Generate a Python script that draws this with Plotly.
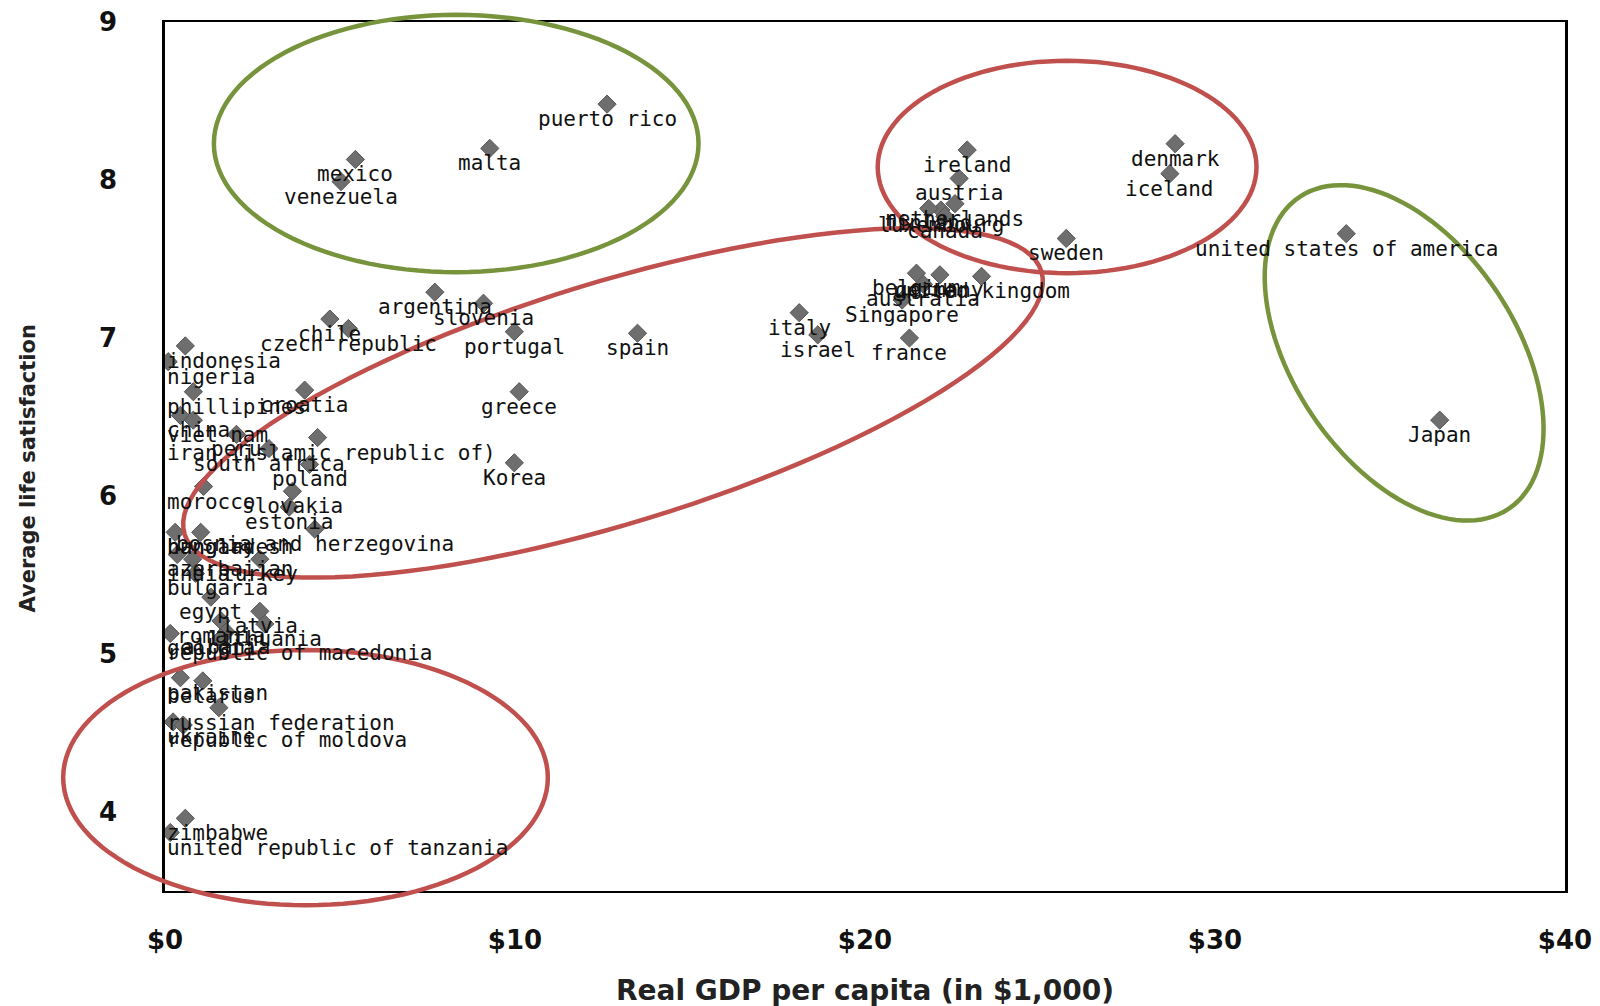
import math
import plotly.graph_objects as go

# ---------------- data ----------------
countries = [
    "puerto rico", "malta", "mexico", "venezuela", "ireland", "denmark", "austria", "iceland",
    "netherlands", "luxembourg", "finland", "canada", "sweden", "united states of america", "Japan",
    "belgium", "germany", "united kingdom", "australia", "Singapore", "france", "italy", "israel",
    "spain", "portugal", "greece", "Korea", "argentina", "slovenia", "chile", "czech republic",
    "indonesia", "nigeria", "croatia", "phillipines", "china", "viet nam", "peru",
    "iran (islamic republic of)", "south africa", "poland", "morocco", "slovakia", "estonia",
    "bosnia and herzegovina", "bangladesh", "hungary", "turkey", "azerbaijan", "india", "bulgaria",
    "egypt", "latvia", "lithuania", "romania", "albania", "republic of macedonia", "georgia",
    "pakistan", "belarus", "russian federation", "ukraine", "republic of moldova",
    "zimbabwe", "united republic of tanzania",
]
gdp = [
    12.63, 9.28, 5.44, 5.03, 22.92, 28.86, 22.69, 28.71,
    22.57, 22.17, 21.82, 22.28, 25.75, 33.75, 36.42,
    21.47, 22.14, 23.33, 21.67, 21.06, 21.27, 18.12, 18.65,
    13.50, 9.98, 10.12, 9.98, 7.71, 9.10, 4.71, 5.24,
    0.58, 0.09, 3.99, 0.81, 0.44, 0.81, 2.04,
    4.36, 2.97, 4.13, 1.10, 3.64, 3.55,
    4.28, 0.29, 1.02, 2.71, 0.35, 0.79, 0.87,
    1.31, 2.71, 2.85, 1.60, 1.75, 1.60, 0.15,
    0.44, 1.08, 1.54, 0.23, 0.52,
    0.58, 0.15,
]
satisfaction = [
    8.48, 8.20, 8.13, 7.99, 8.19, 8.23, 8.01, 8.04,
    7.85, 7.81, 7.82, 7.77, 7.63, 7.66, 6.48,
    7.41, 7.40, 7.39, 7.34, 7.24, 7.00, 7.16, 7.02,
    7.03, 7.04, 6.66, 6.21, 7.29, 7.22, 7.12, 7.06,
    6.95, 6.85, 6.67, 6.66, 6.51, 6.48, 6.39,
    6.37, 6.30, 6.20, 6.06, 6.03, 5.93,
    5.79, 5.77, 5.77, 5.60, 5.63, 5.60, 5.51,
    5.36, 5.27, 5.19, 5.21, 5.14, 5.10, 5.13,
    4.85, 4.83, 4.66, 4.57, 4.55,
    3.96, 3.87,
]
x_ticks = [0, 10, 20, 30, 40]
x_tick_labels = ["$0", "$10", "$20", "$30", "$40"]
y_ticks = [4, 5, 6, 7, 8, 9]

# ---------------- layout geometry ----------------
W, H = 1600, 1006
ML, MR, MT, MB = 157, 43, 14, 123
PW, PH = W - ML - MR, H - MT - MB
XR = [0, 40]
YR = [3.5, 9]
px_per_x = PW / (XR[1] - XR[0])
CHAR_W = 12.6
LABEL_FONT = dict(family="DejaVu Sans Mono", size=21, color="#111111")

fig = go.Figure()
fig.add_trace(go.Scatter(
    x=gdp, y=satisfaction, mode="markers",
    marker=dict(symbol="diamond", size=14, color="#6e6e6e",
                line=dict(color="#555555", width=1)),
    hoverinfo="skip", showlegend=False,
))

annotations = []
for name, gx, sy in zip(countries, gdp, satisfaction):
    half = len(name) * CHAR_W / 2 / px_per_x
    if gx - half < XR[0]:
        ax, anch = XR[0], "left"
    elif gx + half > XR[1]:
        ax, anch = XR[1], "right"
    else:
        ax, anch = gx, "center"
    annotations.append(dict(
        x=ax, y=sy, xref="x", yref="y", text=name, showarrow=False,
        xanchor=anch, yanchor="middle", yshift=-15, font=LABEL_FONT,
    ))

# axis titles
annotations.append(dict(
    x=0.5, y=0, xref="paper", yref="paper", yshift=-99, xanchor="center", yanchor="middle",
    text="<b>Real GDP per capita (in $1,000)</b>", showarrow=False,
    font=dict(family="DejaVu Sans", size=28, color="#222222")))
annotations.append(dict(
    x=0, y=0.5, xref="paper", yref="paper", xshift=-138, yshift=-12,
    xanchor="center", yanchor="middle",
    text="<b>Average life satisfaction</b>", textangle=-90, showarrow=False,
    font=dict(family="DejaVu Sans", size=21, color="#222222")))


# ---------------- highlight ellipses (reference-frame geometry -> paper coords) ----------------
REF_L, REF_R, REF_T, REF_B = 160, 1535, 22, 873


def ellipse_path(cx, cy, a, b, theta_deg, n=120):
    t = math.radians(theta_deg)
    pts = []
    for i in range(n):
        u = 2 * math.pi * i / n
        ex, ey = a * math.cos(u), b * math.sin(u)
        px = cx + ex * math.cos(t) - ey * math.sin(t)
        py = cy + ex * math.sin(t) + ey * math.cos(t)
        pts.append(((px - REF_L) / (REF_R - REF_L), (REF_B - py) / (REF_B - REF_T)))
    return "M " + " L ".join(f"{x:.5f},{y:.5f}" for x, y in pts) + " Z"


RED = "#c0504d"
GREEN = "#77933c"
ellipses = [
    (446, 141, 238, 126, 0, GREEN),
    (1046, 164, 186, 104, 0, RED),
    (600, 395, 440, 118, -17, RED),
    (1377, 346, 184, 109, 56, GREEN),
    (298, 762, 238, 125, 0, RED),
]
shapes = []
for cx, cy, a, b, th, col in ellipses:
    shapes.append(dict(type="path", xref="paper", yref="paper",
                       path=ellipse_path(cx, cy, a, b, th),
                       line=dict(color=col, width=4.5), fillcolor="rgba(0,0,0,0)"))

TICK_FONT = dict(family="DejaVu Sans", size=26, color="#111111")
fig.update_layout(
    width=W, height=H,
    margin=dict(l=ML, r=MR, t=MT, b=MB, pad=0, autoexpand=False),
    paper_bgcolor="white", plot_bgcolor="white",
    annotations=annotations, shapes=shapes,
    xaxis=dict(range=XR, tickvals=x_ticks,
               ticktext=[f"<b>{t}</b>" for t in x_tick_labels],
               showgrid=False, zeroline=False, showline=True, mirror=True,
               linecolor="black", linewidth=2, ticks="", tickfont=TICK_FONT,
               ticklabelstandoff=25, ticklabeloverflow="allow", automargin=False),
    yaxis=dict(range=YR, tickvals=y_ticks,
               ticktext=[f"<b>{t}</b>" for t in y_ticks],
               showgrid=False, zeroline=False, showline=True, mirror=True,
               linecolor="black", linewidth=2.5, ticks="", tickfont=TICK_FONT,
               ticklabelstandoff=40, ticklabeloverflow="allow", automargin=False),
)

fig.write_html("out.html")
